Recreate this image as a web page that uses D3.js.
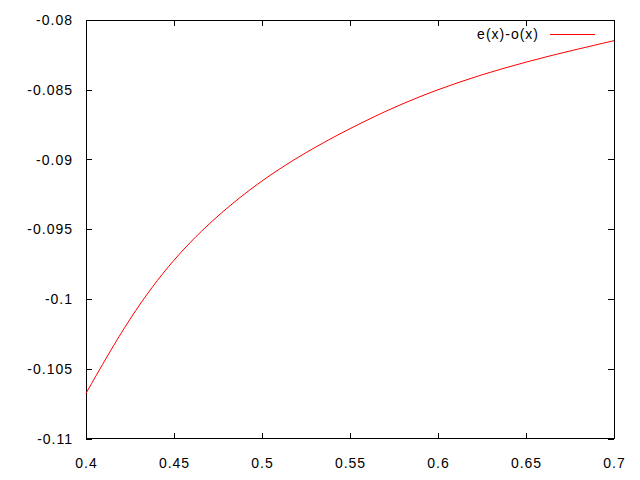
<!DOCTYPE html>
<html><head><meta charset="utf-8">
<script src="https://cdn.jsdelivr.net/npm/d3@7"></script>
<style>body{margin:0;background:#fff}text{font-family:"Liberation Sans",Arial,sans-serif;font-size:14px;letter-spacing:1px;fill:#000}</style>
</head><body>
<script>
const xValues = [0.400,0.425,0.450,0.475,0.500,0.525,0.550,0.575,0.600,0.625,0.650,0.675,0.700];
const yValues = [-0.10676,-0.10145,-0.09722,-0.09405,-0.09154,-0.08951,-0.08779,-0.08628,-0.08500,-0.08393,-0.08302,-0.08222,-0.08148];
const xTicks = [0.4,0.45,0.5,0.55,0.6,0.65,0.7];
const xTickLabels = ["0.4","0.45","0.5","0.55","0.6","0.65","0.7"];
const yTicks = [-0.11,-0.105,-0.1,-0.095,-0.09,-0.085,-0.08];
const yTickLabels = ["-0.11","-0.105","-0.1","-0.095","-0.09","-0.085","-0.08"];
const seriesName = "e(x)-o(x)";

const W=640,H=480,L=86,R=614,T=20,B=438.5;
const svg=d3.select("body").append("svg").attr("width",W).attr("height",H);
const x=d3.scaleLinear().domain([0.4,0.7]).range([L,R]);
const y=d3.scaleLinear().domain([-0.11,-0.08]).range([B,T]);

const g=svg.append("g").attr("shape-rendering","crispEdges");
const tl=6;
xTicks.forEach((t,i)=>{
  const px=Math.round(x(t))+0.5;
  g.append("line").attr("x1",px).attr("x2",px).attr("y1",B).attr("y2",B-tl).attr("stroke","#000");
  g.append("line").attr("x1",px).attr("x2",px).attr("y1",T).attr("y2",T+tl).attr("stroke","#000");
  svg.append("text").attr("x",x(t)+0.5).attr("y",468).attr("text-anchor","middle").text(xTickLabels[i]);
});
yTicks.forEach((t,i)=>{
  const py=Math.round(y(t))+0.5;
  g.append("line").attr("x1",L).attr("x2",L+tl).attr("y1",py).attr("y2",py).attr("stroke","#000");
  g.append("line").attr("x1",R).attr("x2",R-tl).attr("y1",py).attr("y2",py).attr("stroke","#000");
  svg.append("text").attr("x",73).attr("y",y(t)+5).attr("text-anchor","end").text(yTickLabels[i]);
});
g.append("rect").attr("x",L+0.5).attr("y",T+0.5).attr("width",R-L).attr("height",B-T-0.5).attr("fill","none").attr("stroke","#000");

const data=xValues.map((v,i)=>[v,yValues[i]]);
svg.append("path").datum(data).attr("fill","none").attr("stroke","#ff0000").attr("stroke-width",1)
  .attr("d",d3.line().x(d=>x(d[0])).y(d=>y(d[1])).curve(d3.curveNatural));

svg.append("text").attr("x",539).attr("y",39).attr("text-anchor","end").text(seriesName);
svg.append("line").attr("x1",550).attr("x2",595).attr("y1",34.5).attr("y2",34.5).attr("stroke","#ff0000").attr("shape-rendering","crispEdges");
</script>
</body></html>
